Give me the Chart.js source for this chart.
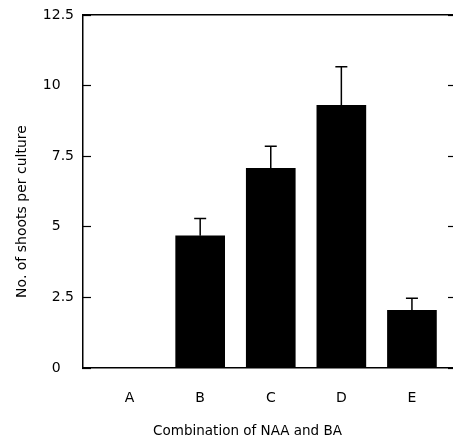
<!DOCTYPE html>
<html>
<head>
<meta charset="utf-8">
<script src="https://cdn.jsdelivr.net/npm/chart.js@4/dist/chart.umd.min.js"></script>
<style>
  html, body { margin: 0; padding: 0; background: #fff; overflow: hidden; }
</style>
</head>
<body>
<canvas id="myChart" width="460" height="440"></canvas>
<script>
const categories = ["A", "B", "C", "D", "E"];
const shoots = [0, 4.68, 7.07, 9.30, 2.04];
const shootErr = [0, 0.61, 0.78, 1.37, 0.43];
const yTickLabels = ["0", "2.5", "5", "7.5", "10", "12.5"];

Chart.defaults.font.family = "'DejaVu Sans', sans-serif";
Chart.defaults.color = "#000";

// error bars, upper half only, placed with the chart's own scales
const errorBars = {
  id: "errorBars",
  afterDatasetsDraw(chart) {
    const ctx = chart.ctx, xs = chart.scales.x, ys = chart.scales.y;
    ctx.save();
    ctx.strokeStyle = "#000";
    ctx.lineWidth = 1.5;
    shoots.forEach((v, i) => {
      if (!shootErr[i]) return;
      const px = xs.getPixelForValue(i);
      const top = ys.getPixelForValue(v + shootErr[i]);
      const bot = ys.getPixelForValue(v);
      ctx.beginPath();
      ctx.moveTo(px, bot);
      ctx.lineTo(px, top);
      ctx.moveTo(px - 6, top);
      ctx.lineTo(px + 6, top);
      ctx.stroke();
    });
    ctx.restore();
  }
};

const xMin = -0.66, xMax = 4.61;
const pad = n => "\u00A0".repeat(n);  // trailing spaces nudge the axis titles off-centre

new Chart("myChart", {
  type: "bar",
  data: {
    datasets: [{
      data: shoots.map((v, i) => ({x: i, y: v})),
      backgroundColor: "#000",
      borderWidth: 0,
      barThickness: 49
    }]
  },
  options: {
    responsive: false,
    animation: false,
    events: [],
    plugins: { legend: {display: false}, tooltip: {enabled: false} },
    layout: { padding: 0 },
    scales: {
      x: {
        type: "linear",
        position: "bottom",
        offset: false,
        min: xMin, max: xMax,
        afterFit: s => { s.height = 72; },
        ticks: {
          stepSize: 1,
          includeBounds: false,
          autoSkip: false,
          maxRotation: 0,
          padding: 22,
          font: {size: 14},
          callback: v => Number.isInteger(v) ? (categories[v] || "") : ""
        },
        grid: {display: true, offset: false, drawOnChartArea: false, drawTicks: false},
        border: {display: true, color: "#000", width: 1.5},
        title: {display: true, text: "Combination of NAA and BA" + pad(10), font: {size: 13.5, lineHeight: 1}, padding: {top: 0, bottom: 2}}
      },
      x2: {
        type: "linear",
        position: "top",
        offset: false,
        min: xMin, max: xMax,
        afterFit: s => { s.height = 15; },
        ticks: {display: false},
        grid: {display: true, offset: false, drawOnChartArea: false, drawTicks: false},
        border: {display: true, color: "#000", width: 1.5}
      },
      y: {
        position: "left",
        min: 0, max: 12.5,
        afterFit: s => { s.width = 83; s.paddingTop = 8; s.paddingBottom = 8; },
        ticks: {
          stepSize: 2.5,
          padding: 17,
          font: {size: 14},
          callback: (v, i) => {
            const s = yTickLabels[i];
            return s.indexOf(".") < 0 ? s + "\u2008\u2007" : s;
          }
        },
        grid: {display: true, drawOnChartArea: false, tickLength: -8, tickColor: "#000", tickWidth: 1.2},
        border: {display: true, color: "#000", width: 1.5},
        title: {display: true, text: "No. of shoots per culture" + pad(9), font: {size: 14, lineHeight: 1}, padding: {top: 15, bottom: 0}}
      },
      y2: {
        position: "right",
        min: 0, max: 12.5,
        afterFit: s => { s.width = 5; s.paddingTop = 0; s.paddingBottom = 0; },
        ticks: {stepSize: 2.5, display: false},
        grid: {display: true, drawOnChartArea: false, tickLength: -7, tickColor: "#000", tickWidth: 1.2},
        border: {display: true, color: "#000", width: 1.5}
      }
    }
  },
  plugins: [errorBars]
});
</script>
</body>
</html>
